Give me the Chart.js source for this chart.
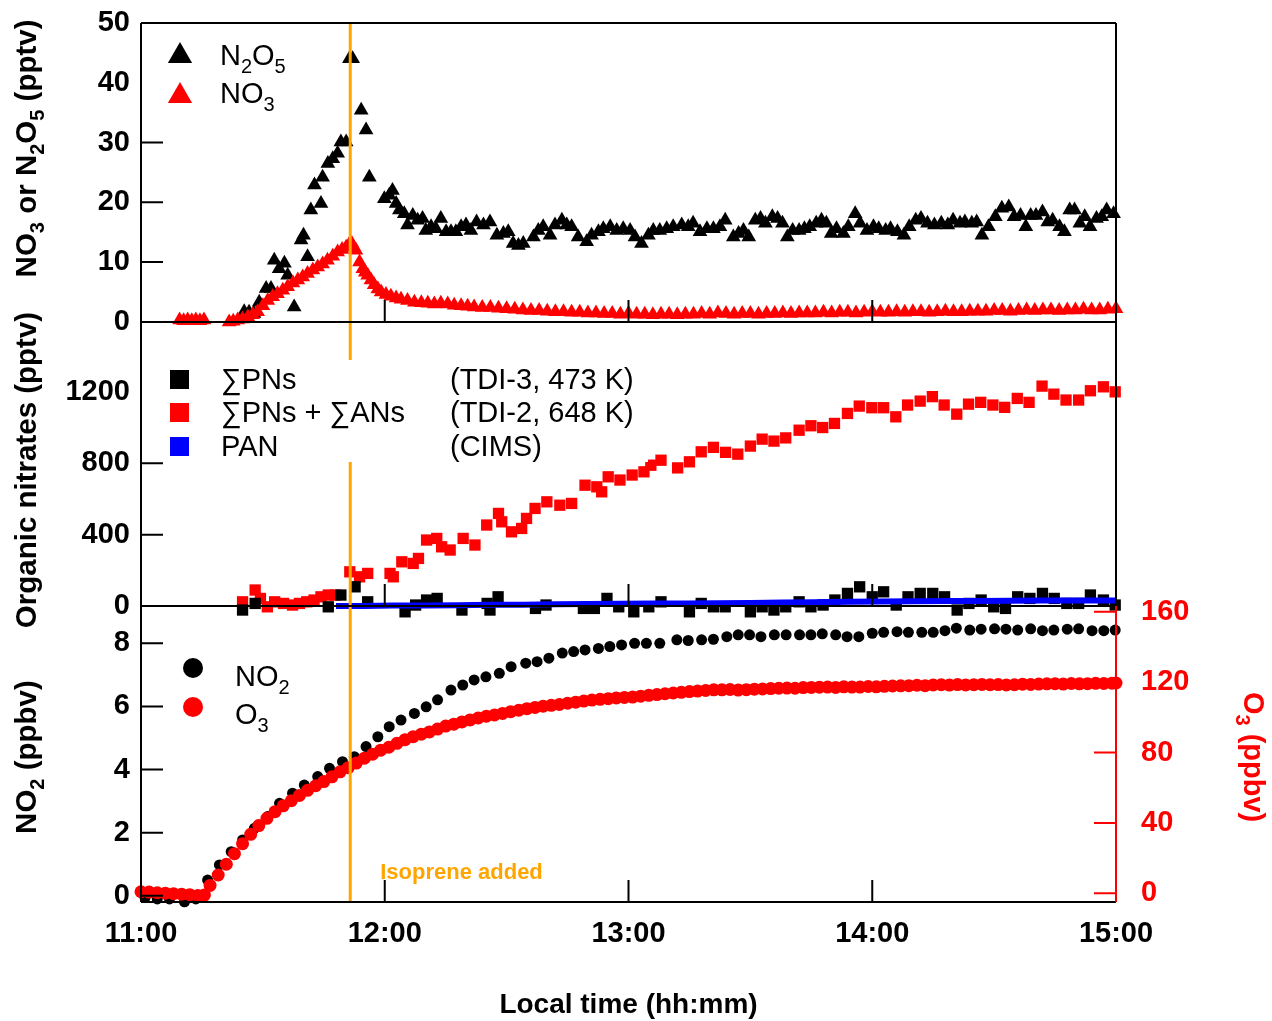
<!DOCTYPE html>
<html>
<head>
<meta charset="utf-8">
<title>NO3 / N2O5, organic nitrates, NO2 and O3</title>
<script src="https://cdn.jsdelivr.net/npm/chart.js@4.4.1/dist/chart.umd.min.js"></script>
<style>
  body { margin: 0; background: #fff; }
  canvas { display: block; }
</style>
</head>
<body>
<canvas id="canvas" width="1272" height="1021"></canvas>
<script>
// time axis: minutes after 11:00
const xTicks = [0, 60, 120, 180, 240];
const xTickLabels = ['11:00', '12:00', '13:00', '14:00', '15:00'];
const isopreneTime = 51.5;

// top panel, pptv
const topTicks = [0, 10, 20, 30, 40, 50];
const topTickLabels = ['0', '10', '20', '30', '40', '50'];

const n2o5Time = [25.4, 26.6, 27.8, 29.1, 30.8, 32.0, 32.8, 34.0, 35.3, 36.1, 37.7, 39.4, 40.0, 41.0, 41.8, 42.7, 44.3, 44.7, 46.0, 47.2,
  48.4, 49.2, 50.5, 51.3, 52.1, 54.2, 55.4, 56.2, 59.9, 61.1, 61.9, 62.8, 63.6, 64.8, 65.6, 66.9, 68.1, 69.3, 70.1, 71.4,
  72.6, 73.8, 75.1, 76.3, 77.5, 78.8, 80.0, 81.2, 82.6, 84.3, 85.9, 87.6, 89.2, 90.4, 91.6, 92.9, 94.1, 96.6, 97.8, 99.0,
  100.7, 101.9, 103.6, 104.8, 106.0, 107.6, 109.7, 110.9, 112.6, 113.8, 115.5, 117.1, 118.7, 120.4, 121.6, 123.2, 124.9, 126.1, 127.7, 129.4,
  131.0, 133.1, 134.7, 135.9, 137.6, 139.3, 140.9, 142.5, 143.8, 145.8, 147.1, 148.3, 149.6, 151.2, 152.5, 153.7, 155.4, 156.7, 157.9, 159.1,
  160.4, 162.0, 163.3, 164.6, 166.2, 167.5, 168.7, 169.9, 171.2, 172.9, 174.1, 175.8, 177.0, 178.7, 180.3, 181.6, 183.3, 184.5, 186.2, 187.8,
  189.1, 190.7, 192.0, 193.6, 195.3, 197.0, 198.6, 199.9, 201.6, 202.8, 204.5, 205.7, 207.0, 208.6, 210.3, 211.9, 213.6, 214.9, 216.5, 217.8,
  219.0, 220.3, 221.9, 223.2, 224.4, 226.1, 227.3, 228.6, 229.8, 231.1, 232.3, 233.6, 235.2, 236.5, 237.7, 239.4];
const n2o5 = [1.7, 1.6, 1.4, 3.3, 5.6, 5.6, 10.3, 8.9, 9.8, 7.8, 2.5, 13.7, 14.5, 10.9, 18.7, 22.9, 19.8, 24.2, 26.5, 27.3,
  28.2, 30.1, 30.1, 44.0, 44.0, 35.4, 32.1, 24.2, 20.6, 21.2, 22.0, 19.8, 18.7, 18.1, 16.2, 17.8, 17.0, 17.3, 15.3, 15.9,
  15.6, 17.3, 15.1, 15.1, 15.1, 15.9, 16.2, 15.3, 16.7, 16.2, 16.7, 14.5, 14.8, 15.1, 13.1, 12.8, 13.1, 14.2, 15.3, 15.9,
  14.5, 16.2, 17.0, 16.2, 15.9, 14.2, 13.4, 14.5, 15.1, 15.6, 15.9, 15.3, 15.6, 15.3, 14.2, 13.1, 14.5, 15.3, 15.3, 15.6,
  15.9, 16.2, 15.9, 16.5, 15.1, 15.6, 15.6, 15.9, 17.0, 14.2, 14.8, 15.3, 14.2, 17.0, 17.3, 16.5, 17.6, 17.3, 16.5, 14.2,
  15.3, 15.3, 15.6, 15.9, 16.5, 17.0, 16.5, 14.8, 15.6, 14.8, 15.9, 18.1, 16.5, 15.3, 15.9, 15.6, 15.3, 15.6, 15.1, 14.5,
  15.9, 17.0, 17.3, 16.5, 16.2, 16.5, 16.2, 17.0, 16.5, 16.7, 16.5, 16.7, 14.5, 15.9, 17.6, 19.0, 19.2, 17.6, 17.8, 15.9,
  17.8, 17.8, 18.4, 16.7, 17.0, 15.9, 15.1, 18.7, 18.7, 16.5, 17.6, 15.9, 17.3, 17.6, 18.7, 18.1];

const no3Time = [9.5, 10.5, 11.5, 12.5, 13.5, 14.5, 15.5, 21.7, 22.7, 23.8, 25.0, 26.3, 27.5, 28.7, 30.0, 31.2, 32.4, 33.6, 34.9, 36.1,
  37.4, 38.6, 39.8, 41.0, 42.3, 43.5, 44.7, 45.9, 47.2, 48.4, 49.5, 50.5, 51.2, 51.9, 52.9, 53.8, 54.6, 55.2, 55.8, 56.6,
  57.4, 58.3, 59.1, 60.3, 61.5, 62.8, 64.0, 65.6, 67.3, 69.0, 70.6, 72.2, 73.8, 75.5, 77.1, 78.8, 80.4,
  82, 84, 86, 88, 90, 92, 94, 96, 98, 100, 102, 104, 106, 108, 110, 112, 114, 116, 118, 120,
  122, 124, 126, 128, 130, 132, 134, 136, 138, 140, 142, 144, 146, 148, 150, 152, 154, 156, 158, 160,
  162, 164, 166, 168, 170, 172, 174, 176, 178, 180, 182, 184, 186, 188, 190, 192, 194, 196, 198, 200,
  202, 204, 206, 208, 210, 212, 214, 216, 218, 220, 222, 224, 226, 228, 230, 232, 234, 236, 238, 240];
const no3 = [0.3, 0.2, 0.3, 0.2, 0.3, 0.2, 0.3, 0.0, 0.1, 0.3, 0.5, 0.8, 1.2, 1.7, 2.7, 3.6, 4.2, 4.7, 5.3, 5.9,
  6.5, 7.0, 7.5, 8.1, 8.7, 9.2, 9.7, 10.3, 11.0, 11.7, 12.1, 12.5, 12.9, 13.1, 12.0, 10.0, 8.9, 8.3, 7.8, 7.0,
  6.2, 5.5, 5.0, 4.6, 4.3, 4.0, 3.8, 3.6, 3.3, 3.2, 3.1, 3.0, 3.1, 3.0, 2.8, 2.7, 2.6,
  2.5, 2.4, 2.4, 2.3, 2.2, 2.1, 2.0, 1.9, 1.9, 1.8, 1.7, 1.7, 1.6, 1.6, 1.5, 1.5, 1.4, 1.4, 1.3, 1.4,
  1.3, 1.3, 1.2, 1.3, 1.3, 1.2, 1.3, 1.3, 1.4, 1.3, 1.5, 1.4, 1.3, 1.4, 1.4, 1.3, 1.4, 1.4, 1.5, 1.4,
  1.5, 1.5, 1.5, 1.6, 1.5, 1.6, 1.6, 1.5, 1.6, 1.7, 1.6, 1.6, 1.7, 1.6, 1.7, 1.7, 1.6, 1.7, 1.8, 1.7,
  1.7, 1.8, 1.8, 1.8, 1.9, 1.9, 1.8, 1.9, 2.0, 1.9, 2.0, 2.0, 1.9, 2.0, 2.0, 2.1, 2.0, 2.0, 2.1, 2.2];

// middle panel, pptv
const midTicks = [0, 400, 800, 1200];
const midTickLabels = ['0', '400', '800', '1200'];

const pnAnTime = [25.0, 28.1, 29.4, 31.1, 32.9, 35.1, 37.3, 39.0, 40.8, 42.6, 44.3, 46.1, 47.9, 51.4, 53.8, 55.8, 61.3, 62.1, 64.2, 67.0,
  68.3, 70.3, 72.8, 74.0, 76.1, 79.3, 82.2, 85.1, 88.0, 88.8, 91.2, 93.7, 94.9, 97.0, 99.9, 103.1, 106.0, 109.3, 112.2, 113.4,
  115.0, 117.9, 120.9, 123.8, 125.5, 128.0, 132.1, 135.0, 137.9, 140.9, 143.9, 146.9, 150.0, 152.9, 155.8, 158.7, 162.0, 164.9, 167.8, 170.7,
  173.9, 176.8, 179.9, 182.8, 185.8, 188.7, 191.8, 194.8, 197.7, 200.8, 203.7, 206.7, 209.7, 212.6, 215.7, 218.6, 221.8, 224.7, 227.7, 230.8,
  233.7, 236.9, 239.8];
const pnAn = [24, 90, 43, -4, 24, 15, 6, 15, 24, 34, 52, 62, 62, 192, 164, 183, 183, 164, 248, 239,
  267, 370, 379, 332, 314, 379, 342, 454, 519, 472, 416, 435, 491, 547, 584, 565, 575, 677, 668, 640,
  724, 706, 734, 752, 789, 817, 774, 808, 864, 889, 861, 851, 896, 935, 924, 942, 985, 1010, 1000, 1023,
  1079, 1120, 1111, 1111, 1060, 1126, 1148, 1173, 1126, 1075, 1131, 1141, 1126, 1113, 1163, 1141, 1232, 1187, 1154, 1154,
  1206, 1228, 1200];

const pnTime = [25.0, 28.1, 46.1, 49.2, 52.7, 55.8, 65.0, 67.6, 70.3, 72.9, 79.0, 85.2, 85.9, 87.9, 97.1, 99.7, 108.9, 111.6, 114.7, 117.6,
  121.3, 125.0, 128.0, 135.0, 137.9, 140.9, 143.8, 150.0, 152.9, 155.8, 158.7, 162.0, 164.9, 167.9, 170.8, 173.9, 176.9, 180.0, 182.8, 185.9,
  188.8, 191.8, 194.9, 197.8, 200.9, 203.8, 206.8, 209.9, 212.8, 215.8, 218.8, 221.9, 224.8, 227.9, 230.8, 233.7, 236.9, 239.8];
const pn = [-22, 15, -4, 62, 108, 24, -32, 6, 34, 43, -22, 15, -22, 52, -13, 6, -13, -13, 43, -4,
  -32, -4, 24, -32, 15, -4, -4, -32, -4, -22, -4, 24, -4, 6, 34, 71, 108, 52, 80, 6,
  52, 71, 71, 52, -22, 15, 34, -4, -13, 52, 43, 71, 43, 15, 15, 62, 34, 6];

const panTime = [48, 55, 62, 70, 78, 86, 94, 102, 110, 118, 126, 134, 142, 150, 158, 166, 174, 182, 190, 198, 206, 214, 222, 230, 240];
const pan = [0, 1, 3, 4, 5, 7, 8, 10, 12, 13, 14, 15, 16, 18, 20, 22, 24, 26, 27, 28, 29, 30, 31, 31, 32];

// bottom panel: NO2 (ppbv, left) and O3 (ppbv, right)
const botTicks = [0, 2, 4, 6, 8];
const botTickLabels = ['0', '2', '4', '6', '8'];
const o3Ticks = [0, 40, 80, 120, 160];
const o3TickLabels = ['0', '40', '80', '120', '160'];

const no2Time = [1, 4, 7, 10.7, 13.5, 16.4, 19.3, 22.2, 25.0, 27.9, 31.2, 34.1, 37.3, 40.2, 43.5, 46.4, 49.6, 52.5, 55.4, 58.3,
  61.1, 64.0, 67.3, 70.2, 73.0, 76.3, 79.2, 82.0, 84.9, 88.2, 91.1, 94.7, 97.5, 100.4, 103.7, 106.5, 109.3, 112.6, 115.4, 118.3,
  121.5, 124.4, 127.7, 131.9, 134.7, 138.0, 140.9, 144.2, 147.0, 149.8, 152.6, 155.9, 158.8, 162.1, 164.9, 167.7, 171.0, 173.8, 176.7, 180.0,
  182.8, 186.1, 188.9, 192.2, 195.0, 197.9, 200.7, 204.0, 206.8, 210.1, 212.9, 215.8, 219.0, 221.9, 224.7, 228.0, 230.8, 234.1, 237.0, 239.8];
const no2 = [-0.05, -0.1, -0.1, -0.19, -0.1, 0.50, 0.98, 1.40, 1.77, 2.14, 2.51, 2.93, 3.25, 3.51, 3.78, 4.04, 4.25, 4.41, 4.73, 5.04,
  5.36, 5.57, 5.78, 5.99, 6.21, 6.52, 6.68, 6.84, 6.94, 7.05, 7.26, 7.37, 7.42, 7.53, 7.69, 7.74, 7.79, 7.84, 7.90, 7.95,
  8.00, 8.00, 8.00, 8.11, 8.09, 8.11, 8.13, 8.21, 8.27, 8.27, 8.21, 8.27, 8.27, 8.27, 8.27, 8.30, 8.27, 8.21, 8.21, 8.32,
  8.35, 8.37, 8.35, 8.35, 8.35, 8.40, 8.48, 8.42, 8.45, 8.46, 8.45, 8.42, 8.46, 8.40, 8.42, 8.45, 8.46, 8.40, 8.40, 8.42];

const o3Time = [0, 2, 4, 6, 8, 10, 12, 14, 15.6, 17, 19, 21, 23, 25, 27, 29, 31, 33, 35, 37,
  39, 41, 43, 45, 47, 49, 51, 53, 55, 57, 59, 61, 63, 65, 67, 69, 71, 73, 75, 77,
  79, 81, 83, 85, 87, 89, 91, 93, 95, 97, 99, 101, 103, 105, 107, 109, 111, 113, 115, 117,
  119, 121, 123, 125, 127, 129, 131, 133, 135, 137, 139, 141, 143, 145, 147, 149, 151, 153, 155, 157,
  159, 161, 163, 165, 167, 169, 171, 173, 175, 177, 179, 181, 183, 185, 187, 189, 191, 193, 195, 197,
  199, 201, 203, 205, 207, 209, 211, 213, 215, 217, 219, 221, 223, 225, 227, 229, 231, 233, 235, 237, 239, 240];
const o3 = [0.9, 0.7, 0.3, 0.1, -0.2, -0.5, -0.8, -1.2, -1.0, 4.5, 10.4, 16.5, 22.5, 28.2, 33.5, 38.5, 42.6, 46.4, 49.7, 52.6,
  55.6, 58.5, 61.1, 63.5, 66.2, 69.0, 71.4, 74.0, 76.8, 79.0, 81.3, 83.0, 85.2, 87.3, 89.0, 90.4, 91.7, 93.3, 95.0, 96.1,
  97.4, 98.5, 99.6, 100.6, 101.3, 102.2, 103.2, 104.0, 104.9, 105.6, 106.3, 106.8, 107.3, 108.0, 108.6, 109.2, 109.8, 110.2, 110.6, 111.0,
  111.3, 111.5, 112.0, 112.5, 112.9, 113.4, 113.8, 114.2, 114.6, 114.9, 115.3, 115.6, 115.6, 115.8, 115.5, 115.7, 116.0, 116.1, 116.3, 116.5,
  116.6, 116.5, 116.9, 117.0, 117.1, 117.2, 117.0, 117.3, 117.2, 117.2, 117.5, 117.3, 117.6, 117.8, 117.9, 118.0, 118.2, 118.0, 118.4, 118.5,
  118.3, 118.6, 118.4, 118.5, 118.7, 118.5, 118.6, 118.4, 118.5, 118.8, 118.7, 118.9, 119.0, 119.1, 118.9, 119.2, 119.0, 119.1, 119.3, 119.2, 119.4, 119.5];

const FONT = '"Liberation Sans", Arial, Helvetica, sans-serif';
const ORANGE = '#ffa500';
const RED = '#ff0000';

function pts(t, v) {
  return t.map((x, i) => ({x: x, y: v[i]}));
}

function setTicks(values) {
  return function(scale) {
    scale.ticks = values.map(v => ({value: v}));
  };
}

// draw text with subscript parts: [text, isSub]
function richText(ctx, parts, x, y, size, weight, align) {
  const big = weight + ' ' + size + 'px ' + FONT;
  const small = weight + ' ' + Math.round(size * 0.68) + 'px ' + FONT;
  let w = 0;
  for (const [t, sub] of parts) {
    ctx.font = sub ? small : big;
    w += ctx.measureText(t).width;
  }
  let cx = align === 'center' ? x - w / 2 : x;
  ctx.textAlign = 'left';
  ctx.textBaseline = 'alphabetic';
  for (const [t, sub] of parts) {
    ctx.font = sub ? small : big;
    ctx.fillText(t, cx, sub ? y + size * 0.26 : y);
    cx += ctx.measureText(t).width;
  }
}

function triangle(ctx, x, y, r) {
  ctx.beginPath();
  for (let k = 0; k < 3; k++) {
    const a = k * 2 * Math.PI / 3;
    const px = x + Math.sin(a) * r, py = y - Math.cos(a) * r;
    if (k === 0) ctx.moveTo(px, py); else ctx.lineTo(px, py);
  }
  ctx.closePath();
  ctx.fill();
}

const decorations = {
  id: 'decorations',
  afterDatasetsDraw(chart) {
    const ctx = chart.ctx;
    const a = chart.chartArea;
    const s = chart.scales;
    const yT = s.yTop, yM = s.yMid, yB = s.yBot, yR = s.yO3, x = s.x;
    ctx.save();

    // isoprene addition marker
    const xi = x.getPixelForValue(isopreneTime);
    ctx.strokeStyle = ORANGE;
    ctx.lineWidth = 3;
    ctx.beginPath();
    ctx.moveTo(xi, a.top);
    ctx.lineTo(xi, a.bottom);
    ctx.stroke();

    // inward ticks
    ctx.strokeStyle = '#000';
    ctx.lineWidth = 2;
    ctx.beginPath();
    for (const sc of [yT, yM, yB]) {
      for (const t of sc.ticks) {
        const py = sc.getPixelForValue(t.value);
        ctx.moveTo(a.left, py);
        ctx.lineTo(a.left + 22, py);
      }
    }
    for (const sc of [yT, yM, yB]) {
      for (const v of xTicks.slice(1, -1)) {
        const px = x.getPixelForValue(v);
        ctx.moveTo(px, sc.bottom);
        ctx.lineTo(px, sc.bottom - 22);
      }
    }
    // frame and panel separators
    ctx.moveTo(a.left, a.top); ctx.lineTo(a.right, a.top);
    ctx.moveTo(a.left, a.top); ctx.lineTo(a.left, a.bottom);
    ctx.moveTo(a.left, a.bottom); ctx.lineTo(a.right, a.bottom);
    ctx.moveTo(a.left, yT.bottom); ctx.lineTo(a.right, yT.bottom);
    ctx.moveTo(a.left, yM.bottom); ctx.lineTo(a.right, yM.bottom);
    ctx.moveTo(a.right, a.top); ctx.lineTo(a.right, yM.bottom);
    ctx.stroke();

    // O3 axis on the right of the bottom panel
    ctx.strokeStyle = RED;
    ctx.beginPath();
    ctx.moveTo(a.right, yB.top); ctx.lineTo(a.right, a.bottom);
    for (const t of yR.ticks) {
      const py = yR.getPixelForValue(t.value);
      ctx.moveTo(a.right, py);
      ctx.lineTo(a.right - 22, py);
    }
    ctx.stroke();

    // legend boxes (opaque, like the original)
    ctx.fillStyle = '#fff';
    ctx.fillRect(a.left + 1, a.top + 8, 158, 90);
    ctx.fillRect(a.left + 1, 360, 506, 102);

    // top legend
    ctx.fillStyle = '#000';
    triangle(ctx, 180, 56, 14);
    richText(ctx, [['N', 0], ['2', 1], ['O', 0], ['5', 1]], 220, 65, 29, 'normal', 'left');
    ctx.fillStyle = RED;
    triangle(ctx, 180, 96, 14);
    ctx.fillStyle = '#000';
    richText(ctx, [['NO', 0], ['3', 1]], 220, 103, 29, 'normal', 'left');

    // middle legend
    const rows = [
      ['#000', '\u2211PNs', '(TDI-3, 473 K)', 389],
      [RED, '\u2211PNs + \u2211ANs', '(TDI-2, 648 K)', 422],
      ['#0000ff', 'PAN', '(CIMS)', 456]
    ];
    for (const [c, name, inst, base] of rows) {
      ctx.fillStyle = c;
      ctx.fillRect(170, base - 19, 19, 19);
      ctx.fillStyle = '#000';
      richText(ctx, [[name, 0]], 221, base, 29, 'normal', 'left');
      richText(ctx, [[inst, 0]], 450, base, 29, 'normal', 'left');
    }

    // bottom legend
    ctx.fillStyle = '#000';
    ctx.beginPath(); ctx.arc(193, 668, 10, 0, 2 * Math.PI); ctx.fill();
    richText(ctx, [['NO', 0], ['2', 1]], 235, 686, 29, 'normal', 'left');
    ctx.fillStyle = RED;
    ctx.beginPath(); ctx.arc(193, 707, 10, 0, 2 * Math.PI); ctx.fill();
    ctx.fillStyle = '#000';
    richText(ctx, [['O', 0], ['3', 1]], 235, 724, 29, 'normal', 'left');

    // isoprene label
    ctx.fillStyle = ORANGE;
    ctx.font = 'bold 22px ' + FONT;
    ctx.textAlign = 'left';
    ctx.textBaseline = 'alphabetic';
    ctx.fillText('Isoprene added', xi + 30, 879);

    // axis titles
    ctx.fillStyle = '#000';
    const leftTitles = [
      [[['NO', 0], ['3', 1], [' or N', 0], ['2', 1], ['O', 0], ['5', 1], [' (pptv)', 0]], (yT.top + yT.bottom) / 2 - 24],
      [[['Organic nitrates (pptv)', 0]], (yM.top + yM.bottom) / 2 + 6],
      [[['NO', 0], ['2', 1], [' (ppbv)', 0]], (yB.top + yB.bottom) / 2 + 3]
    ];
    for (const [parts, cy] of leftTitles) {
      ctx.save();
      ctx.translate(36, cy);
      ctx.rotate(-Math.PI / 2);
      richText(ctx, parts, 0, 0, 29.5, 'bold', 'center');
      ctx.restore();
    }
    ctx.save();
    ctx.fillStyle = RED;
    ctx.translate(1244, (yB.top + yB.bottom) / 2 + 3);
    ctx.rotate(Math.PI / 2);
    richText(ctx, [['O', 0], ['3', 1], [' (ppbv)', 0]], 0, 0, 29, 'bold', 'center');
    ctx.restore();

    ctx.fillStyle = '#000';
    ctx.font = 'bold 28px ' + FONT;
    ctx.textAlign = 'center';
    ctx.textBaseline = 'alphabetic';
    ctx.fillText('Local time (hh:mm)', (a.left + a.right) / 2, 1013);

    ctx.restore();
  }
};

const tickFont = {family: FONT, size: 29, weight: 'bold'};

function leftAxis(min, max, weight, stackWeight, values, labels) {
  return {
    type: 'linear',
    position: 'left',
    stack: 'left',
    stackWeight: stackWeight,
    weight: weight,
    min: min,
    max: max,
    afterBuildTicks: setTicks(values),
    afterFit: s => { s.width = 141; s.paddingTop = 0; s.paddingBottom = 0; },
    grid: {display: false, drawTicks: false},
    border: {display: false},
    ticks: {
      autoSkip: false,
      padding: 11,
      color: '#000',
      font: tickFont,
      callback: (v, i) => labels[i]
    }
  };
}

new Chart(document.getElementById('canvas'), {
  type: 'scatter',
  data: {
    datasets: [
      {data: pts(o3Time, o3), yAxisID: 'yO3', pointStyle: 'circle', pointRadius: 6.5, backgroundColor: RED, borderWidth: 0},
      {data: pts(no2Time, no2), yAxisID: 'yBot', pointStyle: 'circle', pointRadius: 5.5, backgroundColor: '#000', borderWidth: 0},
      {data: pts(panTime, pan), yAxisID: 'yMid', showLine: true, pointRadius: 0, borderColor: '#0000ff', borderWidth: 6},
      {data: pts(pnTime, pn), yAxisID: 'yMid', pointStyle: 'rect', pointRadius: 8, backgroundColor: '#000', borderWidth: 0},
      {data: pts(pnAnTime, pnAn), yAxisID: 'yMid', pointStyle: 'rect', pointRadius: 8, backgroundColor: RED, borderWidth: 0},
      {data: pts(no3Time, no3), yAxisID: 'yTop', pointStyle: 'triangle', pointRadius: 8.5, backgroundColor: RED, borderWidth: 0},
      {data: pts(n2o5Time, n2o5), yAxisID: 'yTop', pointStyle: 'triangle', pointRadius: 8.5, backgroundColor: '#000', borderWidth: 0}
    ].map(d => Object.assign({clip: false, pointHoverRadius: d.pointRadius}, d))
  },
  options: {
    responsive: false,
    animation: false,
    events: [],
    layout: {padding: {top: 23, left: 0, right: 0, bottom: 0}},
    plugins: {
      legend: {display: false},
      tooltip: {enabled: false}
    },
    scales: {
      x: {
        type: 'linear',
        position: 'bottom',
        min: 0,
        max: 240,
        afterBuildTicks: setTicks(xTicks),
        afterFit: s => { s.height = 119; s.paddingLeft = 0; s.paddingRight = 0; },
        grid: {display: false, drawTicks: false},
        border: {display: false},
        ticks: {
          autoSkip: false,
          maxRotation: 0,
          padding: 15,
          color: '#000',
          font: tickFont,
          callback: (v, i) => xTickLabels[i]
        }
      },
      yTop: leftAxis(0, 50, 3, 299, topTicks, topTickLabels),
      yMid: leftAxis(0, 1591.6, 2, 284.3, midTicks, midTickLabels),
      yBot: leftAxis(-0.196, 9.18, 1, 296, botTicks, botTickLabels),
      // O3 axis spans the whole plot height, scaled so that its range falls in the bottom panel
      yO3: {
        type: 'linear',
        position: 'right',
        min: -4.94,
        max: 494.5,
        afterBuildTicks: setTicks(o3Ticks),
        afterFit: s => { s.width = 156; s.paddingTop = 0; s.paddingBottom = 0; },
        grid: {display: false, drawTicks: false},
        border: {display: false},
        ticks: {
          autoSkip: false,
          padding: 25,
          color: RED,
          font: tickFont,
          callback: (v, i) => o3TickLabels[i]
        }
      }
    }
  },
  plugins: [decorations]
});
</script>
</body>
</html>
